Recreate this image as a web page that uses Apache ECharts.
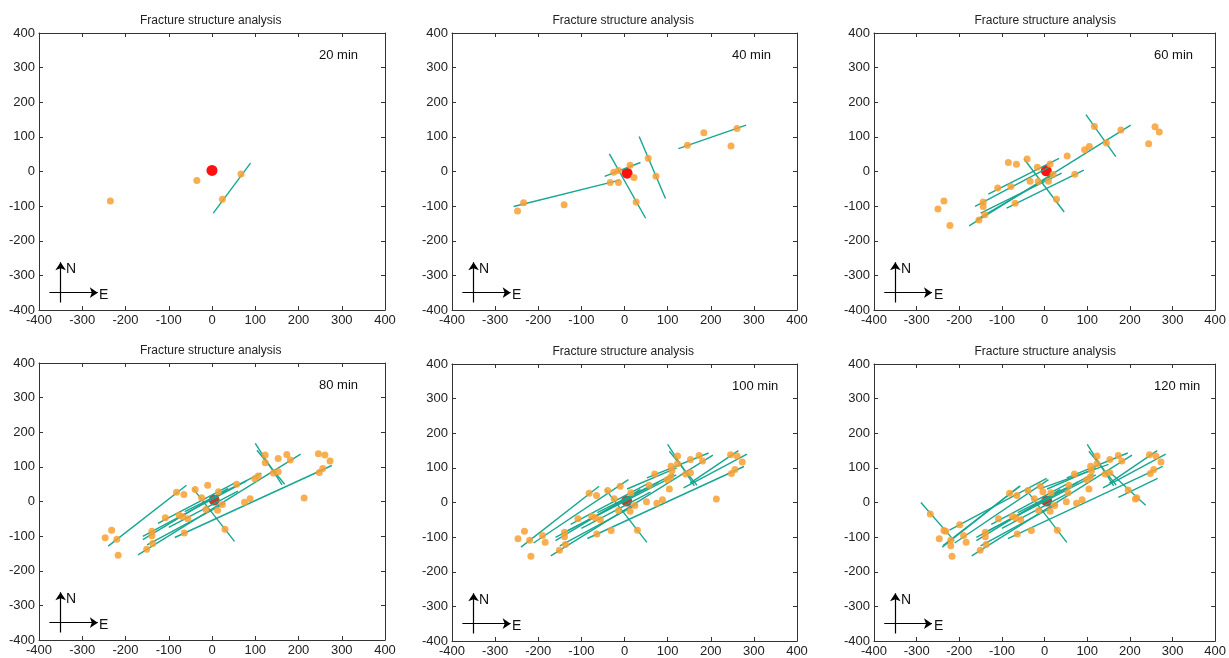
<!DOCTYPE html>
<html>
<head>
<meta charset="utf-8">
<script src="https://cdn.jsdelivr.net/npm/echarts@6/dist/echarts.min.js"></script>
<style>
html, body { margin: 0; padding: 0; background: #fff; }
#main { width: 1229px; height: 658px; }
</style>
</head>
<body>
<div id="main"></div>
<script>
// axis range (both axes), in m
var axisMin = -400, axisMax = 400, axisStep = 100;
var titleText = 'Fracture structure analysis';
var times = ['20 min', '40 min', '60 min', '80 min', '100 min', '120 min'];

// injection point
var centers = [[0, 3], [6, -5], [4, 2], [5, 4], [5, 4], [5, 4]];

// 20 min
var pts20 = [[-235, -85], [-35, -26], [24, -80], [67, -7]];
var lines20 = [[[3, -120], [89, 24]]];

// 40 min
var pts40 = [[-248, -114], [-234, -90], [-140, -96], [-33, -32], [-14, -32], [-25, -2], [-14, 3], [13, 18],
  [22, -17], [27, -88], [55, 38], [73, -14], [146, 76], [184, 112], [247, 74], [261, 124]];
var lines40 = [
  [[-257, -101], [-11, -25]],
  [[-46, -14], [37, 26]],
  [[-35, 51], [49, -135]],
  [[34, 101], [95, -78]],
  [[125, 66], [282, 134]]
];

// 60 min
var pts60 = [[-250, -108], [-236, -85], [-222, -156], [-85, 26], [-66, 21], [-41, 36], [-110, -48], [-79, -43],
  [-144, -88], [-144, -101], [-140, -125], [-154, -140], [-69, -92], [-34, -28], [-17, 12], [-15, -29], [13, 22],
  [9, -28], [20, -9], [28, -80], [53, 45], [71, -8], [94, 63], [105, 72], [117, 130], [145, 82], [179, 120],
  [244, 80], [259, 129], [269, 114]];
var lines60 = [
  [[-177, -157], [202, 134]],
  [[-132, -65], [34, 38]],
  [[-163, -101], [13, 14]],
  [[-89, -106], [92, 4]],
  [[-160, -140], [20, -10]],
  [[-150, -120], [40, -5]],
  [[-48, 36], [46, -117]],
  [[97, 164], [167, 43]]
];

// 80 min
var pts80 = [[-247, -105], [-232, -83], [-220, -109], [-217, -155], [-82, 27], [-65, 20], [-39, 35], [-10, 47],
  [15, 28], [-108, -47], [-76, -40], [-68, -44], [-56, -50], [-139, -86], [-139, -99], [-137, -121], [-151, -138],
  [-64, -91], [-24, 11], [-14, -23], [13, -25], [24, -9], [30, -80], [57, 50], [75, -2], [88, 8], [99, 66],
  [107, 74], [123, 134], [123, 112], [153, 124], [173, 136], [181, 120], [142, 82], [153, 86], [213, 10],
  [246, 138], [261, 134], [273, 117], [248, 84], [256, 95]];
var lines80 = [
  [[-240, -129], [-59, 47]],
  [[-171, -154], [205, 137]],
  [[-86, -104], [277, 104]],
  [[-44, 38], [52, -115]],
  [[100, 168], [162, 48]],
  [[104, 148], [168, 50]],
  [[-160, -101], [79, 59]],
  [[-160, -110], [37, 38]],
  [[-125, -63], [52, 53]],
  [[-63, -29], [114, 82]],
  [[-150, -125], [30, -5]],
  [[-100, -75], [60, 30]]
];

// new at 100 min
var add100pts = [[-190, -95], [-184, -115], [-31, -81], [51, 2], [70, 82], [104, 39], [110, 92], [108, 105]];
var add100lines = [
  [[-211, -117], [9, 66]],
  [[52, 71], [195, 143]],
  [[137, 42], [284, 140]],
  [[152, 56], [264, 150]],
  [[6, 39], [121, 100]],
  [[-145, -90], [120, 80]]
];

// new at 120 min
var add120pts = [[-268, -33], [-236, -81], [-220, -125], [-199, -64], [-4, 31], [55, 28], [196, 36], [216, 14]];
var add120lines = [
  [[-290, 0], [-212, -110]],
  [[152, 89], [237, -8]],
  [[-223, -80], [5, 70]],
  [[-238, -124], [-57, 48]],
  [[173, 15], [265, 70]],
  [[-10, 40], [150, 110]]
];

var pts100 = pts80.concat(add100pts);
var lines100 = lines80.concat(add100lines);
var pts120 = pts100.concat(add120pts);
var lines120 = lines100.concat(add120lines);

var allPts = [pts20, pts40, pts60, pts80, pts100, pts120];
var allLines = [lines20, lines40, lines60, lines80, lines100, lines120];

// panel boxes in px
var boxes = [
  {left: 39, top: 33, width: 346, height: 277},
  {left: 452, top: 33, width: 345, height: 277},
  {left: 874, top: 33, width: 345, height: 277},
  {left: 39, top: 363, width: 346, height: 277},
  {left: 452, top: 364, width: 345, height: 277},
  {left: 874, top: 364, width: 345, height: 277}
];

var font = 'Liberation Sans, Arial, sans-serif';
var grid = [], xAxis = [], yAxis = [], series = [], graphic = [];

function axis(k, pos, labels) {
  return {
    type: 'value', gridIndex: k, position: pos,
    min: axisMin, max: axisMax, interval: axisStep,
    axisLine: {show: true, onZero: false, lineStyle: {color: '#333', width: 1}},
    axisTick: {show: true, inside: true, length: 4, lineStyle: {color: '#333'}},
    axisLabel: {show: labels, color: '#222', fontSize: 13, fontFamily: font, margin: 4,
      showMinLabel: true, showMaxLabel: true},
    splitLine: {show: false}
  };
}

boxes.forEach(function (b, k) {
  grid.push({left: b.left, top: b.top, width: b.width, height: b.height});
  xAxis.push(axis(k, 'bottom', true), axis(k, 'top', false));
  yAxis.push(axis(k, 'left', true), axis(k, 'right', false));
  var xi = 2 * k, yi = 2 * k;

  series.push({
    type: 'scatter', xAxisIndex: xi, yAxisIndex: yi, z: 2, silent: true,
    symbolSize: 11,
    itemStyle: {color: k < 3 ? '#ff1010' : '#b9432f', opacity: 1},
    data: [centers[k]]
  });
  series.push({
    type: 'lines', coordinateSystem: 'cartesian2d', xAxisIndex: xi, yAxisIndex: yi, z: 3, silent: true,
    lineStyle: {color: '#17a691', width: 1.4, opacity: 1},
    data: allLines[k].map(function (l) { return {coords: l}; })
  });
  series.push({
    type: 'scatter', xAxisIndex: xi, yAxisIndex: yi, z: 4, silent: true,
    symbolSize: 7,
    itemStyle: {color: '#f8a032', opacity: 0.85},
    data: allPts[k]
  });
  // north / east arrows
  series.push({
    type: 'lines', coordinateSystem: 'cartesian2d', xAxisIndex: xi, yAxisIndex: yi, z: 5, silent: true,
    symbol: ['none', 'arrow'], symbolSize: 8,
    lineStyle: {color: '#000', width: 1.2, opacity: 1},
    data: [{coords: [[-350, -378], [-350, -262]]}, {coords: [[-376, -350], [-264, -350]]}]
  });

  graphic.push({
    type: 'text', left: b.left + b.width / 2 + 6 - 78, top: b.top - 18,
    style: {text: titleText, fontSize: 12, fontFamily: font, fill: '#222'}
  });
  graphic.push({
    type: 'text', left: b.left + 280, top: b.top + 16,
    style: {text: times[k], fontSize: 13, fontFamily: font, fill: '#111'}
  });
  graphic.push({
    type: 'text', left: b.left + 27, top: b.top + 229,
    style: {text: 'N', fontSize: 14, fontFamily: font, fill: '#111'}
  });
  graphic.push({
    type: 'text', left: b.left + 60, top: b.top + 255,
    style: {text: 'E', fontSize: 14, fontFamily: font, fill: '#111'}
  });
});

var chart = echarts.init(document.getElementById('main'));
chart.setOption({
  animation: false,
  backgroundColor: '#fff',
  grid: grid,
  xAxis: xAxis,
  yAxis: yAxis,
  series: series,
  graphic: graphic
});
</script>
</body>
</html>
